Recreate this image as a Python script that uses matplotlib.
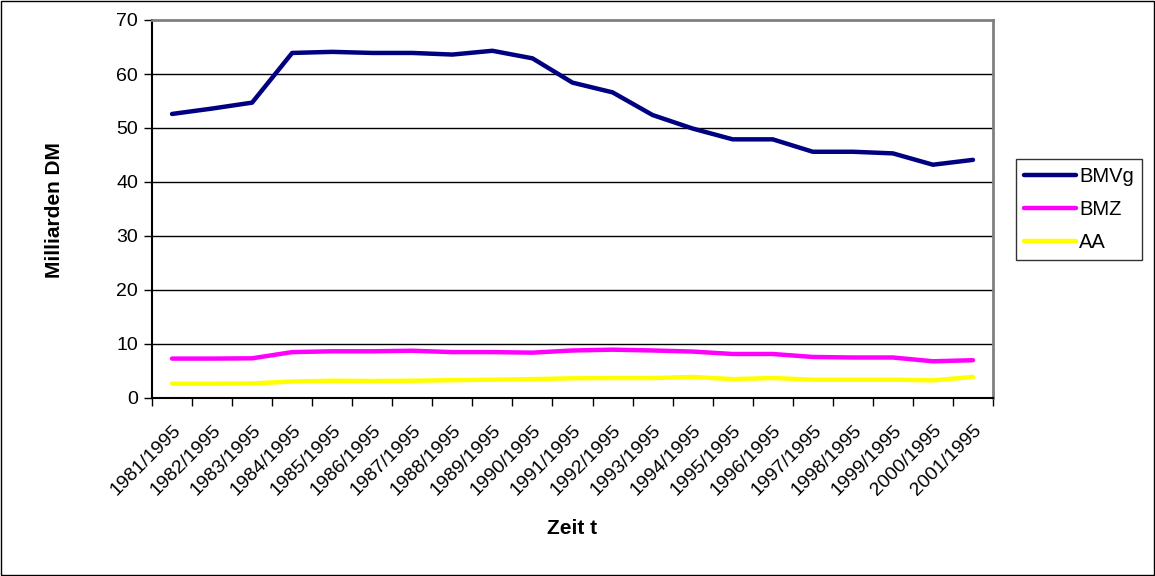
import matplotlib
matplotlib.use("Agg")
import matplotlib.pyplot as plt
from matplotlib.patches import Rectangle
from matplotlib.transforms import ScaledTranslation

plt.rcParams['font.family'] = ['Liberation Sans', 'DejaVu Sans']

categories = [f"{y}/1995" for y in range(1981, 2002)]
bmvg = [52.6, 53.6, 54.7, 63.9, 64.1, 63.9, 63.9, 63.6, 64.3, 62.9, 58.4,
        56.6, 52.4, 49.9, 47.9, 47.9, 45.6, 45.6, 45.3, 43.2, 44.1]
bmz = [7.3, 7.3, 7.35, 8.5, 8.65, 8.65, 8.75, 8.5, 8.5, 8.4, 8.8,
       8.95, 8.8, 8.6, 8.15, 8.15, 7.6, 7.5, 7.5, 6.8, 7.0]
aa = [2.65, 2.65, 2.7, 3.05, 3.2, 3.15, 3.2, 3.3, 3.4, 3.5, 3.65,
      3.7, 3.7, 3.9, 3.5, 3.7, 3.4, 3.4, 3.4, 3.27, 3.9]
series = [("BMVg", bmvg, "#000080"), ("BMZ", bmz, "#FF00FF"), ("AA", aa, "#FFFF00")]
yticks = [0, 10, 20, 30, 40, 50, 60, 70]

W, H = 1155, 576
fig = plt.figure(figsize=(W / 100, H / 100), dpi=100)
fig.patches.append(Rectangle((1 / W, 1 / H), 1 - 2 / W, 1 - 2 / H, transform=fig.transFigure,
                             fill=False, edgecolor='black', linewidth=1))

ax = fig.add_axes([152 / W, (H - 398) / H, 841 / W, 378 / H])
x = list(range(len(categories)))
for name, vals, col in series:
    ax.plot(x, vals, color=col, linewidth=3.2, label=name, solid_capstyle='round',
            solid_joinstyle='round')

ax.set_xlim(-0.5, len(categories) - 0.5)
ax.set_ylim(0, 70)
ax.set_yticks(yticks)
ax.set_yticklabels([str(v) for v in yticks], fontsize=14)
for v in yticks[1:-1]:
    ax.axhline(v, color='black', linewidth=1, zorder=0)

ax.set_xticks([i - 0.5 for i in range(len(categories) + 1)], minor=False)
ax.set_xticklabels([])
ax.set_xticks(x, minor=True)
labels = ax.set_xticklabels(categories, minor=True, rotation=45, ha='right',
                            rotation_mode='anchor', fontsize=14)
off = ScaledTranslation(-7 / 100, 0, fig.dpi_scale_trans)
for t in labels:
    t.set_transform(t.get_transform() + off)
ax.tick_params(axis='x', which='major', length=6, width=1, direction='out', color='black')
ax.tick_params(axis='x', which='minor', length=0, pad=17)
ax.tick_params(axis='y', length=6, width=1, direction='out', pad=4)

for s in ['left', 'bottom']:
    ax.spines[s].set_color('black')
    ax.spines[s].set_linewidth(1.5)
for s in ['top', 'right']:
    ax.spines[s].set_color('#808080')
    ax.spines[s].set_linewidth(2)

fig.text(54 / W, 1 - 210 / H, "Milliarden DM", fontsize=15, fontweight='bold',
         rotation=90, ha='center', va='center')
fig.text(572 / W, 1 - 529 / H, "Zeit t", fontsize=15, fontweight='bold', ha='center', va='center')

leg = fig.legend(loc='upper left', bbox_to_anchor=(1016 / W, 1 - 159 / H), frameon=True,
                 fontsize=14.5, handlelength=2.6, handletextpad=0.15, borderpad=0.4,
                 labelspacing=0.7, fancybox=False, borderaxespad=0)
leg.get_frame().set_edgecolor('black')
leg.get_frame().set_linewidth(1)
for l in leg.get_lines():
    l.set_linewidth(3.2)

fig.savefig("out.png", dpi=100)
